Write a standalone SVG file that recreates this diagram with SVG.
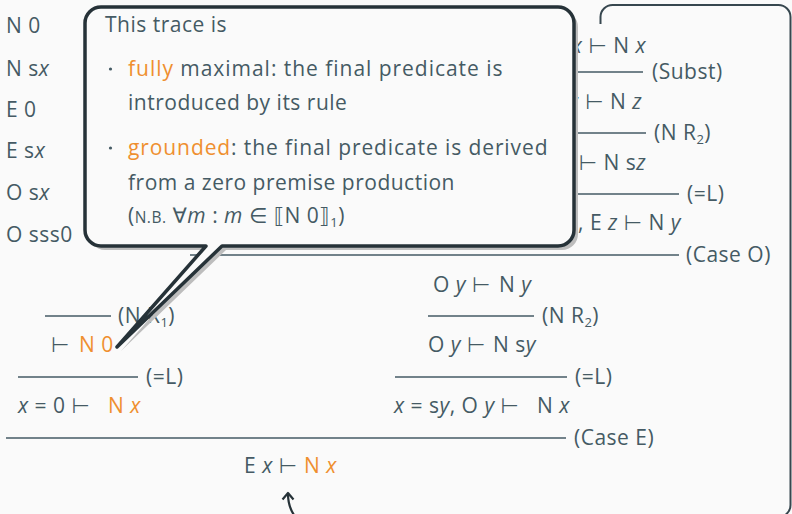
<svg xmlns="http://www.w3.org/2000/svg" width="792" height="514" viewBox="0 0 792 514">
<style>
.t{font-family:"Open Sans","DejaVu Sans",sans-serif;font-size:21px;letter-spacing:0.5px;fill:#455a64}
.o{fill:#ef8f2f}
.i{font-style:italic}
.sc{font-size:15.5px}
.sub{font-size:13px}
.rule{stroke:#455a64;stroke-width:1.6;fill:none}
</style>
<rect x="0" y="0" width="792" height="514" fill="#fafafa"/>
<g id="panel">
<path d="M600.5,24 V17 A12,12 0 0 1 612.5,5 H778.5 A12,12 0 0 1 790.5,17 V505 A12,12 0 0 1 778.5,517" fill="none" stroke="#37474f" stroke-width="2"/>
</g>
<g id="facts" class="t">
<text x="6" y="33">N 0</text>
<text x="6" y="76">N s<tspan class="i">x</tspan></text>
<text x="6" y="117">E 0</text>
<text x="6" y="158">E s<tspan class="i">x</tspan></text>
<text x="6" y="200">O s<tspan class="i">x</tspan></text>
<text x="6" y="242">O sss0</text>
</g>
<g id="connectors">
<line class="rule" x1="560" y1="72" x2="643" y2="72"/>
<line class="rule" x1="560" y1="133" x2="646" y2="133"/>
<line class="rule" x1="560" y1="194" x2="679" y2="194"/>
<line class="rule" x1="190" y1="255" x2="679" y2="255"/>
<line class="rule" x1="45" y1="316" x2="111" y2="316"/>
<line class="rule" x1="18" y1="377" x2="138" y2="377"/>
<line class="rule" x1="6" y1="438" x2="566" y2="438"/>
<line class="rule" x1="428" y1="316" x2="534" y2="316"/>
<line class="rule" x1="395" y1="377" x2="567" y2="377"/>
<path d="M288,494 C288,503 290,509 294,515" fill="none" stroke="#263238" stroke-width="2.2"/>
<path d="M282.5,499.5 L288,493 L293.5,499.5" fill="none" stroke="#263238" stroke-width="2.2" stroke-linejoin="round"/>
</g>
<g id="upper-tree" class="t">
<text x="646" y="53" text-anchor="end"><tspan class="i">x</tspan> ⊢ N <tspan class="i">x</tspan></text>
<text x="652" y="79">(Subst)</text>
<text x="642" y="109" text-anchor="end"><tspan class="i">z</tspan> ⊢ N <tspan class="i">z</tspan></text>
<text x="654" y="140">(N R<tspan class="sub" dy="4">2</tspan><tspan dy="-4">)</tspan></text>
<text x="646" y="170" text-anchor="end">⊢ N s<tspan class="i">z</tspan></text>
<text x="687" y="201">(=L)</text>
<text x="681" y="230" text-anchor="end"><tspan class="i">z</tspan>, E <tspan class="i">z</tspan> ⊢ N <tspan class="i">y</tspan></text>
<text x="686" y="262">(Case O)</text>
</g>
<g id="left-tree" class="t">
<text x="118" y="323">(N R<tspan class="sub" dy="4">1</tspan><tspan dy="-4">)</tspan></text>
<text x="51" y="352">⊢ <tspan class="o" x="79">N 0</tspan></text>
<text x="146" y="384">(=L)</text>
<text x="18" y="413"><tspan class="i">x</tspan> = 0 ⊢ <tspan class="o" x="108">N <tspan class="i">x</tspan></tspan></text>
<text x="574" y="445">(Case E)</text>
<text x="244" y="473">E <tspan class="i">x</tspan> ⊢ <tspan class="o" x="304">N <tspan class="i">x</tspan></tspan></text>
</g>
<g id="right-tree" class="t">
<text x="433" y="292">O <tspan class="i">y</tspan> ⊢ <tspan x="499">N <tspan class="i">y</tspan></tspan></text>
<text x="542" y="323">(N R<tspan class="sub" dy="4">2</tspan><tspan dy="-4">)</tspan></text>
<text x="428" y="352">O <tspan class="i">y</tspan> ⊢ <tspan x="493">N s<tspan class="i">y</tspan></tspan></text>
<text x="575" y="384">(=L)</text>
<text x="394" y="413"><tspan class="i">x</tspan> = s<tspan class="i">y</tspan>, O <tspan class="i">y</tspan> ⊢ <tspan x="537">N <tspan class="i">x</tspan></tspan></text>
</g>
<g id="callout">
<path d="M105,11 H562 A16,16 0 0 1 578,27 V234 A16,16 0 0 1 562,250 H226 L121,351 L210,250 H105 A16,16 0 0 1 89,234 V27 A16,16 0 0 1 105,11 Z" fill="#bdbdbd"/>
<path d="M101,7 H558 A16,16 0 0 1 574,23 V230 A16,16 0 0 1 558,246 H222 L117,347 L206,246 H101 A16,16 0 0 1 85,230 V23 A16,16 0 0 1 101,7 Z" fill="#fafafa" stroke="#263238" stroke-width="3.5" stroke-linejoin="round"/>
<g class="t">
<text x="105" y="32">This trace is</text>
<circle cx="110.5" cy="69" r="1.6" fill="#455a64"/>
<text x="128" y="76" textLength="375" lengthAdjust="spacing"><tspan class="o">fully</tspan> maximal: the final predicate is</text>
<text x="128" y="110">introduced by its rule</text>
<circle cx="110.5" cy="148" r="1.6" fill="#455a64"/>
<text x="128" y="155" textLength="420" lengthAdjust="spacing"><tspan class="o">grounded</tspan>: the final predicate is derived</text>
<text x="128" y="190">from a zero premise production</text>
<text x="128" y="223">(<tspan class="sc">N.B.</tspan> ∀<tspan class="i">m</tspan> : <tspan class="i">m</tspan> ∈ ⟦N 0⟧<tspan class="sub" dy="4">1</tspan><tspan dy="-4">)</tspan></text>
</g>
</g>
</svg>
